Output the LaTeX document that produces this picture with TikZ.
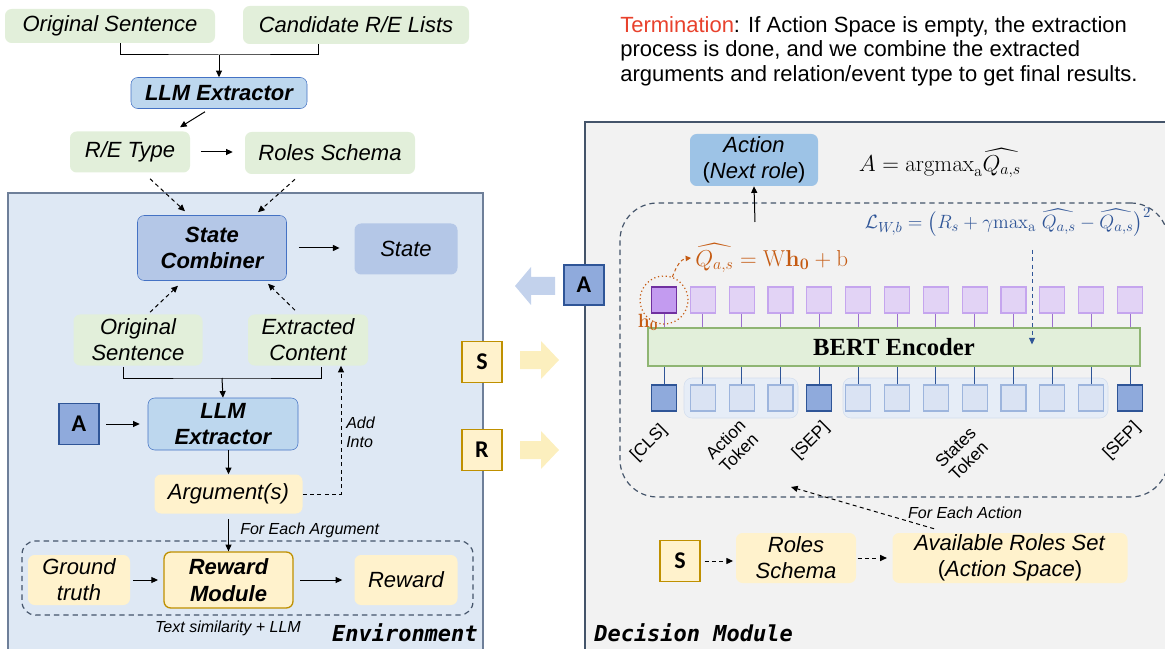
\documentclass[tikz,border=0pt]{standalone}
\usepackage[no-math]{fontspec}
\setmainfont{Liberation Sans}
\newfontfamily\monofam{DejaVu Sans Mono}
\newfontfamily\serifam{Liberation Serif}
\newfontfamily\boxfam{Carlito}
\usepackage{amsmath}
\usepackage{amssymb}
\usetikzlibrary{arrows.meta,calc}

\definecolor{envfill}{HTML}{DEE8F4}
\definecolor{envline}{HTML}{6E7F99}
\definecolor{dmfill}{HTML}{F2F2F2}
\definecolor{dmline}{HTML}{44546A}
\definecolor{grn}{HTML}{E2EFDA}
\definecolor{ylw}{HTML}{FFF2CC}
\definecolor{ylwarrow}{HTML}{FCEFBE}
\definecolor{gold}{HTML}{BF9000}
\definecolor{llmfill}{HTML}{BDD7EE}
\definecolor{llmline}{HTML}{4472C4}
\definecolor{scfill}{HTML}{B4C7E7}
\definecolor{abfill}{HTML}{8FAADC}
\definecolor{abline}{HTML}{2F5597}
\definecolor{actfill}{HTML}{9DC3E6}
\definecolor{termred}{HTML}{E8412C}
\definecolor{qorange}{HTML}{C55A11}
\definecolor{lblue}{HTML}{2F5597}
\definecolor{tokfill}{HTML}{DAE3F3}
\definecolor{tokline}{HTML}{9DB5DD}
\definecolor{grpfill}{HTML}{E6EDF7}
\definecolor{grpline}{HTML}{D3DEEE}
\definecolor{purfill}{HTML}{E2D3F5}
\definecolor{purline}{HTML}{C5A5EE}
\definecolor{purwire}{HTML}{9B6FD0}
\definecolor{hfill}{HTML}{C39BF0}
\definecolor{hline}{HTML}{7030A0}
\definecolor{bertfill}{HTML}{E2EFDA}
\definecolor{bertline}{HTML}{8FB573}

\tikzset{
  wh/.style 2 args={minimum width=#1*0.75pt, minimum height=#2*0.75pt},
  lbl/.style={font=\fontsize{16.5}{19.5}\selectfont\itshape, align=center, inner sep=0pt},
  box/.style={lbl, rounded corners=5pt},
  greenbox/.style={box, fill=grn},
  yellowbox/.style={box, fill=ylw},
  boldlbl/.style={font=\fontsize{16.5}{20}\selectfont\bfseries\itshape},
  llmbox/.style={box, fill=llmfill, draw=llmline, boldlbl},
  letter/.style={draw, line width=0.9pt, inner sep=0pt, wh={40}{41}, font=\boxfam\fontsize{18}{18}\selectfont\bfseries},
  abox/.style={letter, fill=abfill, draw=abline},
  sbox/.style={letter, fill=ylw, draw=gold},
  arr/.style={-{Triangle[length=5pt,width=4.5pt]}, line width=0.75pt},
  darr/.style={arr, dash pattern=on 3pt off 2.5pt},
  small/.style={font=\fontsize{12}{14}\selectfont\itshape, inner sep=0pt, align=left},
  dashbox/.style={draw=dmline, line width=0.9pt, dash pattern=on 4pt off 3pt, rounded corners=10pt},
  tok/.style={wh={25}{26}, inner sep=0pt, line width=0.8pt},
  toklbl/.style={rotate=45, font=\fontsize{13}{14}\selectfont, align=center, inner sep=0pt},
  mono/.style={font=\monofam\bfseries\itshape\fontsize{16.5}{18}\selectfont, inner sep=0pt},
}

\begin{document}
\begin{tikzpicture}[x=0.75pt, y=-0.75pt]
\useasboundingbox (0,0) rectangle (1165,649);

% panels
\node[fill=envfill, draw=envline, line width=1.2pt, wh={475}{470}] (env) at (245.5,428) {};
\node[fill=dmfill, draw=dmline, line width=1.2pt, wh={590}{540}] (dm) at (880,392) {};

% type extraction
\node[greenbox, wh={210}{34}] (os1) at (110,26) {Original Sentence};
\node[greenbox, wh={226}{38}] (cand) at (356,25) {Candidate R/E Lists};
\node[llmbox, wh={176}{31}] (llm1) at (219,93) {LLM Extractor};
\node[greenbox, wh={120}{41}] (retype) at (130,152) {R/E Type};
\node[greenbox, wh={170}{42}] (roles1) at (330,153) {Roles Schema};
\coordinate (j1) at (219,55);
\draw[line width=0.75pt] ($(os1.south)+(10,0)$) |- (j1) -| ($(cand.south)+(-38,0)$);
\draw[arr] (j1) -- (llm1.north);
\draw[arr] ($(llm1.south)+(-14,3)$) -- ($(retype.north)+(50,-4)$);
\draw[arr, shorten <=8pt, shorten >=9pt] (retype.east) -- (retype.east -| roles1.west);

% environment
\node[box, fill=scfill, draw=llmline, boldlbl, wh={149}{65}] (sc) at (212,248) {State\\Combiner};
\node[box, fill=scfill, wh={103}{51}] (state) at (406,249) {State};
\draw[arr, shorten <=9pt, shorten >=11pt] (sc.east) -- (sc.east -| state.west);
\draw[darr] ($(retype.south)+(20,6)$) -- ($(sc.north)+(-27,-4)$);
\draw[darr] ($(roles1.south)+(-35,5)$) -- ($(sc.north)+(46,-3)$);

\node[greenbox, wh={129}{51}] (os2) at (138,340) {Original\\Sentence};
\node[greenbox, wh={120}{51}] (ext) at (308,340) {Extracted\\Content};
\draw[darr] ($(os2.north)+(12,-2)$) -- ($(sc.south)+(-34,5)$);
\draw[darr] ($(ext.north)+(-13,-4)$) -- ($(sc.south)+(56,3)$);

\node[llmbox, wh={150}{52}] (llm2) at (223,424) {LLM\\Extractor};
\node[abox] (a1) at (79,424) {A};
\coordinate (j2) at (222,378);
\draw[line width=0.75pt] ($(os2.south)+(-15,1)$) |- (j2) -| ($(ext.south)+(13,1)$);
\draw[arr] (j2) -- (llm2.north);
\draw[arr, shorten <=5pt, shorten >=6pt] (a1.east) -- (a1.east -| llm2.west);

\node[yellowbox, wh={148}{39}] (arg) at (228.5,494) {Argument(s)};
\draw[arr] (arg.north |- llm2.south) -- (arg.north);
\draw[darr] (arg.east) -| ($(ext.south)+(33,0)$);
\node[small, anchor=west] (addinto) at (346,432) {Add\\Into};

\node[dashbox, wh={451}{74}] (rloop) at (247.5,578) {};
\node[yellowbox, wh={102}{50}] (gt) at (79,580) {Ground\\truth};
\node[yellowbox, draw=gold, line width=1pt, boldlbl, wh={129}{56}] (rm) at (228.5,580) {Reward\\Module};
\node[yellowbox, wh={103}{50}] (rw) at (406,580) {Reward};
\draw[arr, shorten <=4pt] (arg.south) -- (rm.north);
\node[small, anchor=west] (feach) at (240,530) {For Each Argument};
\draw[arr, shorten <=2pt, shorten >=4pt] (gt.east) -- (gt.east -| rm.west);
\draw[arr, shorten <=5pt, shorten >=9pt] (rm.east) -- (rm.east -| rw.west);
\node[small] (tsim) at (228,628) {Text similarity + LLM};
\node[mono, anchor=east] (envlbl) at (478,633) {Environment};

% exchange between the two modules
\fill[scfill, opacity=.8] (555,277) -- (531,277) -- (531,267) -- (515,286) -- (531,305) -- (531,295) -- (555,295) -- cycle;
\fill[ylwarrow] (520,351) -- (541,351) -- (541,341) -- (559,360) -- (541,379) -- (541,369) -- (520,369) -- cycle;
\fill[ylwarrow] (520,441) -- (541,441) -- (541,431) -- (559,450) -- (541,469) -- (541,459) -- (520,459) -- cycle;
\node[abox, wh={40}{40}] (a2) at (584,285) {A};
\node[sbox] (s1) at (482,362) {S};
\node[sbox] (r1) at (482,450) {R};

% termination note
\node[anchor=north west, align=left, inner sep=0pt, font=\fontsize{16.5}{18.4}\selectfont] (term) at (620,16)
  {\textcolor{termred}{Termination}: If Action Space is empty, the extraction\\process is done, and we combine the extracted\\arguments and relation/event type to get final results.};

% decision module
\node[box, fill=actfill, wh={128}{52}, font=\fontsize{16.5}{19.5}\selectfont] (act) at (754,160) {\textit{Action}\\(\textit{Next role})};
\node[font=\fontsize{17}{20}\selectfont] (aform) at (940,163) {$A=\mathrm{argmax}_{\mathrm{a}}\widehat{Q_{a,s}}$};
\node[dashbox, rounded corners=28pt, wh={548}{294}] (qloop) at (894,350) {};
\coordinate (qtop) at (755,222);
\draw[arr] (qtop) -- (act.south);
\node[text=lblue, font=\fontsize{15.5}{18}\selectfont] (lform) at (1008,222)
  {$\mathcal{L}_{W,b}=\bigl(R_s+\gamma\mathrm{max}_{\mathrm{a}}\ \widehat{Q_{a,s}}-\widehat{Q_{a,s}}\bigr)^2$};

\node[draw=bertline, fill=bertfill, line width=0.8pt, wh={492}{38}, font=\serifam\bfseries\fontsize{18.5}{20}\selectfont] (bert) at (894,347) {BERT Encoder};

\node[fill=grpfill, draw=grpline, rounded corners=6pt, wh={114}{40}] (agrp) at (741,398) {};
\node[fill=grpfill, draw=grpline, rounded corners=6pt, wh={265}{40}] (sgrp) at (975.5,398) {};

\node[tok, fill=hfill, draw=hline] (t0) at (664,300) {};
\foreach \i in {1,...,12}
  \node[tok, fill=purfill, draw=purline] (t\i) at (664+38.83*\i,300) {};
\foreach \i in {0,4,12}
  \node[tok, fill=abfill, draw=abline] (b\i) at (664+38.83*\i,398) {};
\foreach \i in {1,2,3,5,6,7,8,9,10,11}
  \node[tok, fill=tokfill, draw=tokline] (b\i) at (664+38.83*\i,398) {};
\foreach \i in {0,...,12} {
  \draw[purwire, line width=0.7pt] (t\i.south) -- (t\i.south |- bert.north);
  \draw[abline, line width=0.7pt] (b\i.north) -- (b\i.north |- bert.south);
}

\node[toklbl] (lcls) at (649,443) {[CLS]};
\node[toklbl] (lact) at (732,446) {Action\\Token};
\node[toklbl] (lsep1) at (811,441) {[SEP]};
\node[toklbl] (lst) at (962,454) {States\\Token};
\node[toklbl] (lsep2) at (1122,441) {[SEP]};

\coordinate (ltail) at (1032,250);
\draw[lblue, line width=0.75pt, dash pattern=on 3pt off 2.5pt, -{Triangle[length=5pt,width=4.5pt]}] (ltail) -- ($(bert.north -| ltail)+(0,17)$);

\node[circle, draw=qorange, line width=0.9pt, dotted, minimum size=36pt] (hc) at (664,300) {};
\node[anchor=west, text=qorange, font=\fontsize{17}{18}\selectfont, inner sep=0pt] (qform) at (695,258) {$\widehat{Q_{a,s}}=\mathrm{W}\mathbf{h_0}+\mathrm{b}$};
\draw[qorange, line width=0.75pt, dash pattern=on 2.5pt off 2pt, -{Triangle[length=4pt,width=4pt]}] (hc.70) to[out=70,in=185] ($(qform.west)+(-4,0)$);
\node[text=qorange, font=\fontsize{14}{16}\selectfont, inner sep=0pt] (h0) at (648,322) {$\mathbf{h_0}$};

\node[sbox] (s2) at (680,561) {S};
\node[yellowbox, wh={120}{50}] (rs) at (796,558) {Roles\\Schema};
\node[yellowbox, wh={235}{50}, font=\fontsize{16.5}{19.5}\selectfont] (avail) at (1010,558) {\textit{Available Roles Set}\\(\textit{Action Space})};
\draw[darr, shorten <=3pt, shorten >=2pt] (s2.east) -- (s2.east -| rs.west);
\draw[darr, shorten <=1pt, shorten >=4pt] (rs.east) -- (rs.east -| avail.west);
\coordinate (qin) at (791,487);
\draw[darr] ($(avail.north)+(-76,-4)$) -- (qin);
\node[small] (feact) at (965,513) {For Each Action};
\node[mono, anchor=west] (dmlbl) at (594,633) {Decision Module};
\end{tikzpicture}
\end{document}
